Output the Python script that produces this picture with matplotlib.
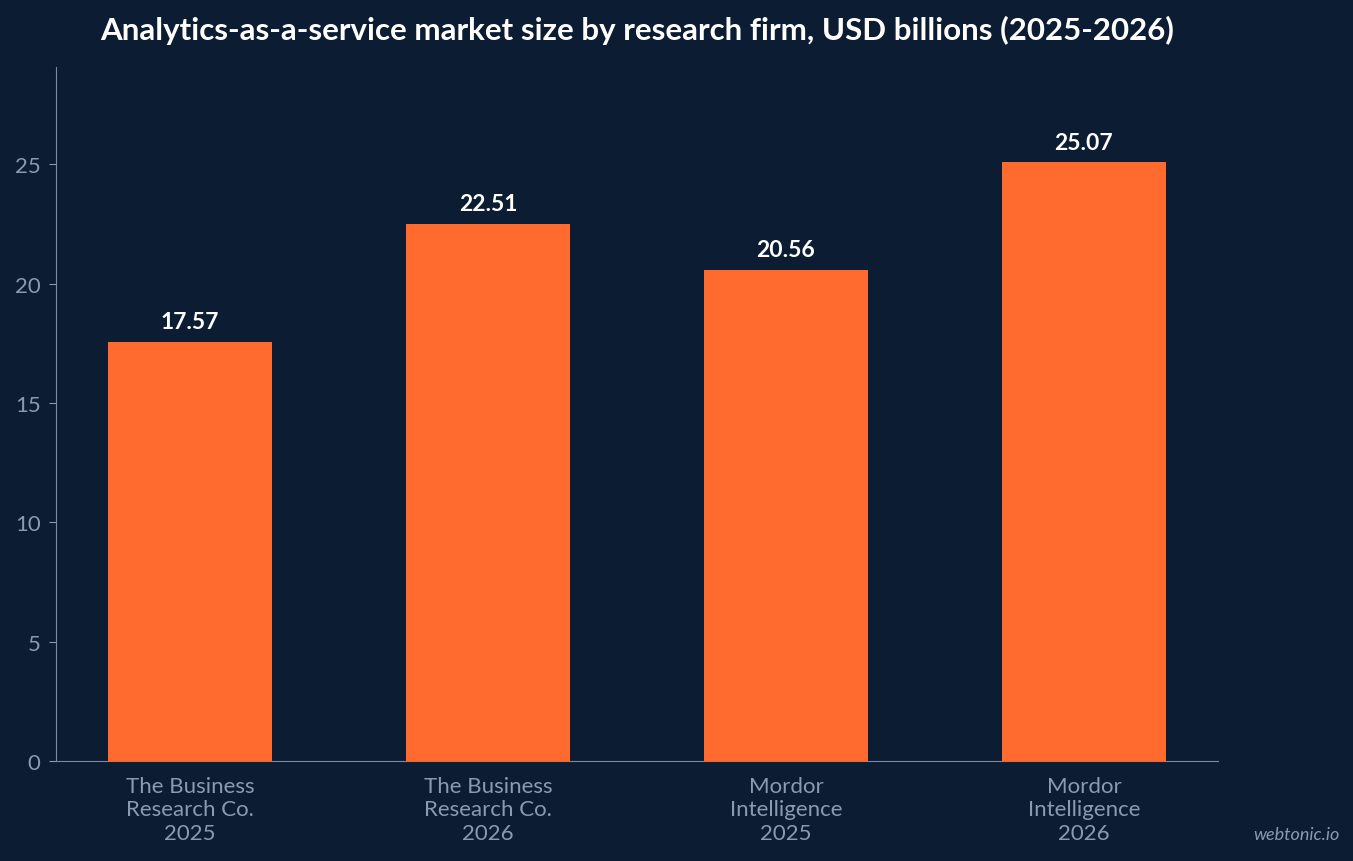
import matplotlib
matplotlib.use("Agg")
import matplotlib.pyplot as plt

categories = ["The Business\nResearch Co.\n2025", "The Business\nResearch Co.\n2026",
              "Mordor\nIntelligence\n2025", "Mordor\nIntelligence\n2026"]
values = [17.57, 22.51, 20.56, 25.07]
yticks = [0, 5, 10, 15, 20, 25]

plt.rcParams['font.family'] = ['Lato', 'DejaVu Sans']
bg = '#0b1c33'
fig = plt.figure(figsize=(13.53, 8.62), dpi=100, facecolor=bg)
ax = fig.add_axes([56/1353, 100/862, 1162/1353, 694/862], facecolor=bg)
x = range(len(values))
ax.bar(x, values, width=0.55, color='#ff6b2f')
for xi, v in zip(x, values):
    ax.annotate(f"{v:.2f}", (xi, v), xytext=(0, 7), textcoords='offset points',
                ha='center', va='bottom', color='white', fontsize=16.5, fontweight='bold')
ax.set_xlim(-0.45, 3.45)
ax.set_ylim(0, 29.07)
ax.set_xticks(list(x))
ax.set_xticklabels(categories, linespacing=1.2)
ax.set_yticks(yticks)
ax.tick_params(colors='#8b9ab3', labelsize=16, length=0, pad=11)
ax.tick_params(axis='y', length=5, pad=6)
for s in ['top', 'right']:
    ax.spines[s].set_visible(False)
for s in ['left', 'bottom']:
    ax.spines[s].set_color('#7d8aa0')
fig.text(637/1353, 1 - 30/862, "Analytics-as-a-service market size by research firm, USD billions (2025-2026)",
         ha='center', va='center', color='white', fontsize=22.5, fontweight='bold')
fig.text(1340/1353, 1 - 835/862, "webtonic.io", ha='right', va='center', color='#8b9ab3',
         fontsize=13, style='italic')
fig.savefig("out.png", dpi=100, facecolor=bg)
